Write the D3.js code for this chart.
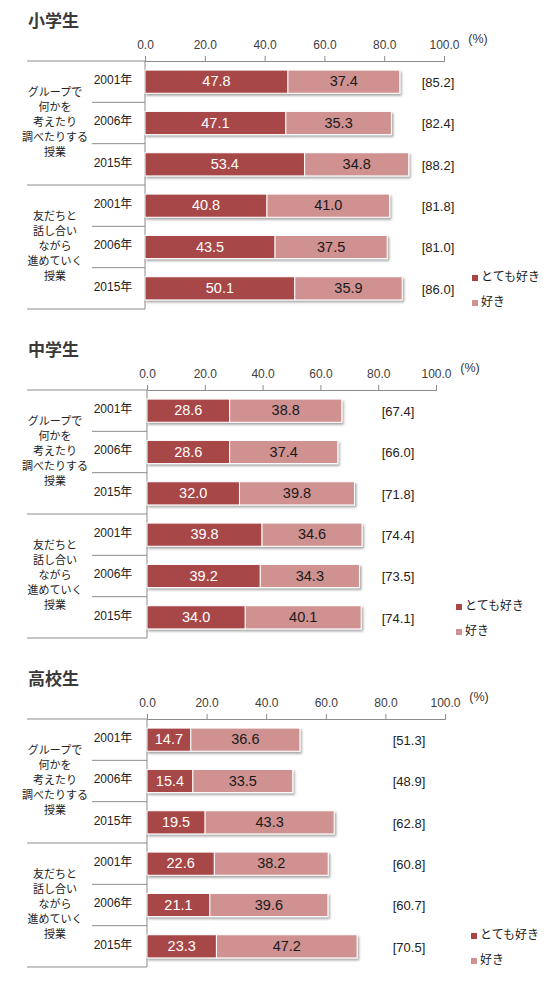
<!DOCTYPE html>
<html>
<head>
<meta charset="utf-8">
<script src="https://cdn.jsdelivr.net/npm/d3@7"></script>
<style>
  body { margin: 0; background: #fff; }
  text { font-family: "Liberation Sans", "Noto Sans CJK JP", sans-serif; }
</style>
</head>
<body>
<svg id="chart" width="558" height="990"></svg>
<script>
// data
var panels = ["小学生", "中学生", "高校生"];
var groupLabels = [
  ["グループで", "何かを", "考えたり", "調べたりする", "授業"],
  ["友だちと", "話し合い", "ながら", "進めていく", "授業"]
];
var years = ["2001年", "2006年", "2015年"];
var seriesNames = ["とても好き", "好き"];
var veryLike = [
  [47.8, 47.1, 53.4, 40.8, 43.5, 50.1],
  [28.6, 28.6, 32.0, 39.8, 39.2, 34.0],
  [14.7, 15.4, 19.5, 22.6, 21.1, 23.3]
];
var like = [
  [37.4, 35.3, 34.8, 41.0, 37.5, 35.9],
  [38.8, 37.4, 39.8, 34.6, 34.3, 40.1],
  [36.6, 33.5, 43.3, 38.2, 39.6, 47.2]
];
var totals = [
  [85.2, 82.4, 88.2, 81.8, 81.0, 86.0],
  [67.4, 66.0, 71.8, 74.4, 73.5, 74.1],
  [51.3, 48.9, 62.8, 60.8, 60.7, 70.5]
];
var ticks = [0, 20, 40, 60, 80, 100];

var colors = ["#a84646", "#d09191"];

// layout of each panel (where the axis sits, plot extent, total labels column)
var layout = [
  { axisY: 61,  x0: 145, x1: 444, totalX: 438, legendX: 475 },
  { axisY: 390, x0: 147, x1: 436, totalX: 398, legendX: 459 },
  { axisY: 719, x0: 147, x1: 445, totalX: 409, legendX: 474 }
];

var svg = d3.select("#chart");

var defs = svg.append("defs");
var f = defs.append("filter").attr("id", "shadow")
  .attr("x", "-5%").attr("y", "-20%").attr("width", "115%").attr("height", "160%");
f.append("feDropShadow").attr("dx", 1.5).attr("dy", 2).attr("stdDeviation", 1.2)
  .attr("flood-color", "#000").attr("flood-opacity", 0.35);

panels.forEach(function (name, p) {
  var L = layout[p];
  var bottom = L.axisY + 248;
  var g = svg.append("g");

  var x = d3.scaleLinear().domain([0, 100]).range([L.x0, L.x1]);
  var rows = d3.range(6);
  var y = d3.scaleBand().domain(rows).range([L.axisY, bottom])
    .paddingInner(0.44).paddingOuter(0.22);
  var rowH = (bottom - L.axisY) / 6;

  // title
  g.append("text")
    .attr("x", 28).attr("y", L.axisY - 39)
    .attr("dominant-baseline", "middle")
    .style("font-family", "'Noto Sans CJK JP', sans-serif")
    .attr("font-weight", "bold").attr("font-size", 17)
    .attr("fill", "#3a3a3a")
    .text(name);

  // top axis
  var axis = d3.axisTop(x).tickValues(ticks).tickSize(5)
    .tickFormat(d3.format(".1f"));
  var ax = g.append("g").attr("transform", "translate(0," + L.axisY + ")").call(axis);
  ax.select(".domain").attr("stroke", "#8c8c8c");
  ax.selectAll(".tick line").attr("stroke", "#8c8c8c");
  ax.selectAll(".tick text")
    .attr("font-size", 12).attr("fill", "#404040")
    .attr("font-family", null).attr("y", -12);

  g.append("text")
    .attr("x", x(100) + 34).attr("y", L.axisY - 21)
    .attr("text-anchor", "middle").attr("dominant-baseline", "middle")
    .attr("font-size", 12.5).attr("fill", "#333")
    .text("(%)");

  // table lines on the left
  var lineColor = "#8c8c8c";
  rows.concat([6]).forEach(function (r) {
    var yy = L.axisY + r * rowH;
    var left = (r % 3 === 0) ? 27 : 92;
    g.append("line")
      .attr("x1", left).attr("x2", L.x0)
      .attr("y1", yy).attr("y2", yy)
      .attr("stroke", lineColor).attr("stroke-width", 1);
  });
  g.append("line")
    .attr("x1", L.x0).attr("x2", L.x0)
    .attr("y1", L.axisY).attr("y2", bottom)
    .attr("stroke", lineColor).attr("stroke-width", 1);

  // group labels
  groupLabels.forEach(function (lines, gi) {
    var cy = L.axisY + (gi * 3 + 1.5) * rowH;
    g.selectAll(null).data(lines).enter().append("text")
      .attr("x", 55)
      .attr("y", function (d, i) { return cy + (i - (lines.length - 1) / 2) * 15; })
      .attr("text-anchor", "middle").attr("dominant-baseline", "middle")
      .style("font-family", "'Noto Sans CJK JP', sans-serif")
      .attr("font-size", 11).attr("fill", "#222")
      .text(function (d) { return d; });
  });

  // year labels
  g.selectAll(null).data(rows).enter().append("text")
    .attr("x", 113)
    .attr("y", function (r) { return y(r) + y.bandwidth() / 2 - 1; })
    .attr("text-anchor", "middle").attr("dominant-baseline", "middle")
    .attr("font-size", 12).attr("fill", "#222")
    .text(function (r) { return years[r % 3]; });

  // bars
  var bars = g.selectAll(".bar").data(rows).enter().append("g")
    .attr("class", "bar")
    .attr("filter", "url(#shadow)");

  bars.append("rect")
    .attr("x", x(0))
    .attr("y", function (r) { return y(r); })
    .attr("width", function (r) { return x(veryLike[p][r]) - x(0); })
    .attr("height", y.bandwidth())
    .attr("fill", colors[0]).attr("stroke", "#fff").attr("stroke-width", 1);

  bars.append("rect")
    .attr("x", function (r) { return x(veryLike[p][r]); })
    .attr("y", function (r) { return y(r); })
    .attr("width", function (r) { return x(veryLike[p][r] + like[p][r]) - x(veryLike[p][r]); })
    .attr("height", y.bandwidth())
    .attr("fill", colors[1]).attr("stroke", "#fff").attr("stroke-width", 1);

  // value labels
  g.selectAll(null).data(rows).enter().append("text")
    .attr("x", function (r) { return x(veryLike[p][r] / 2); })
    .attr("y", function (r) { return y(r) + y.bandwidth() / 2 + 1; })
    .attr("text-anchor", "middle").attr("dominant-baseline", "middle")
    .attr("font-size", 14.5).attr("fill", "#fff")
    .text(function (r) { return veryLike[p][r].toFixed(1); });

  g.selectAll(null).data(rows).enter().append("text")
    .attr("x", function (r) { return x(veryLike[p][r] + like[p][r] / 2); })
    .attr("y", function (r) { return y(r) + y.bandwidth() / 2 + 1; })
    .attr("text-anchor", "middle").attr("dominant-baseline", "middle")
    .attr("font-size", 14.5).attr("fill", "#1a1a1a")
    .text(function (r) { return like[p][r].toFixed(1); });

  // totals
  g.selectAll(null).data(rows).enter().append("text")
    .attr("x", L.totalX)
    .attr("y", function (r) { return y(r) + y.bandwidth() / 2 + 2; })
    .attr("text-anchor", "middle").attr("dominant-baseline", "middle")
    .attr("font-size", 13).attr("fill", "#222")
    .text(function (r) { return "[" + totals[p][r].toFixed(1) + "]"; });

  // legend
  var lg = g.append("g").attr("transform", "translate(" + L.legendX + "," + (L.axisY + 217) + ")");
  var item = lg.selectAll("g").data(seriesNames).enter().append("g")
    .attr("transform", function (d, i) { return "translate(0," + i * 25 + ")"; });
  item.append("rect")
    .attr("x", -3).attr("y", -3).attr("width", 6).attr("height", 6)
    .attr("fill", function (d, i) { return colors[i]; });
  item.append("text")
    .attr("x", 6).attr("y", 0)
    .attr("dominant-baseline", "middle")
    .style("font-family", "'Noto Sans CJK JP', sans-serif")
    .attr("font-size", 12).attr("fill", "#222")
    .text(function (d) { return d; });
});
</script>
</body>
</html>
